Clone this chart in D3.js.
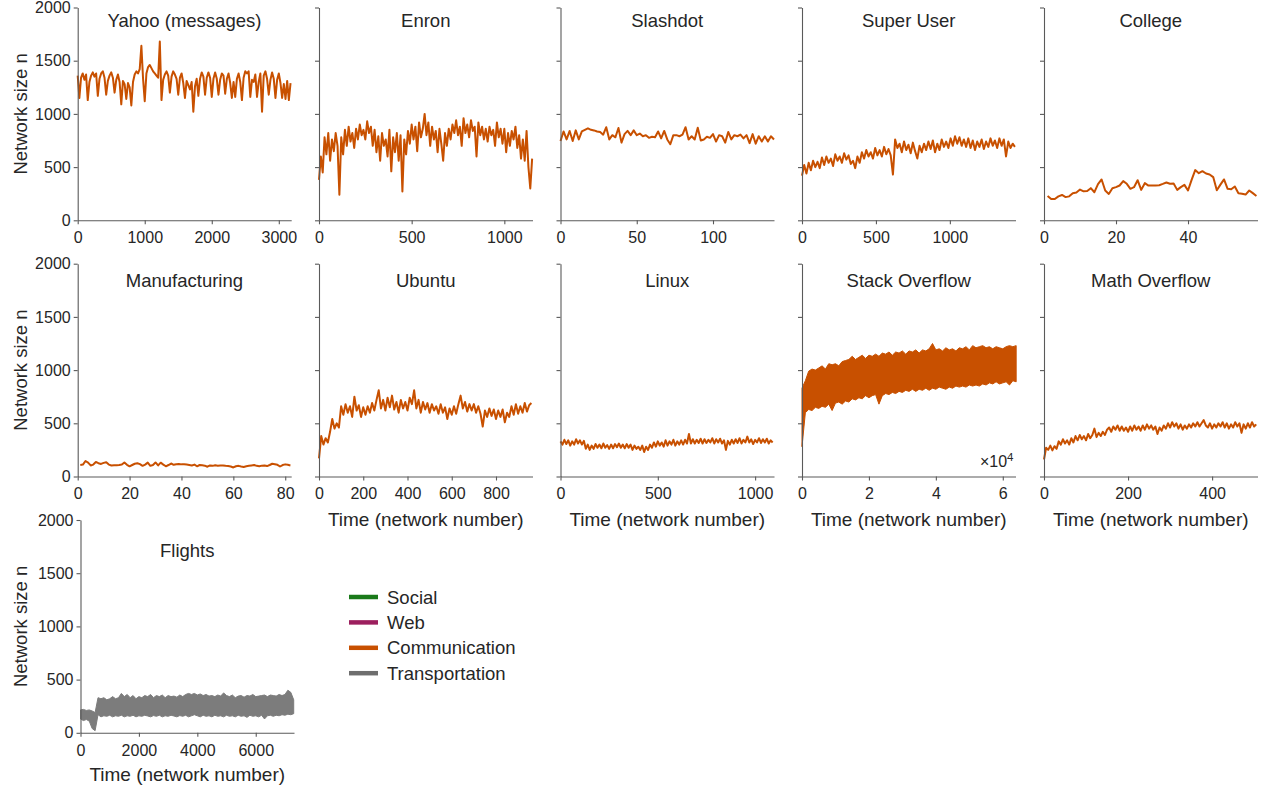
<!DOCTYPE html>
<html><head><meta charset="utf-8">
<script src="https://cdn.jsdelivr.net/npm/d3@7"></script>
<style>
body{margin:0;background:#fff}
svg{display:block}
text{font-family:"Liberation Sans",Arial,Helvetica,sans-serif}
</style>
</head><body>
<svg id="chart" width="1262" height="788"></svg>
<script>
// ---------------- DATA ----------------
const categoryNames = ["Social", "Web", "Communication", "Transportation"];
const yTickValues = [0, 500, 1000, 1500, 2000];

// Yahoo (messages): network number step 25
const yahooStep = 25;
const yahooSize = [1360,1150,1340,1380,1320,1370,1130,1300,1360,1390,
1350,1380,1170,1330,1380,1400,1340,1180,1310,1360,
1390,1340,1200,1320,1370,1300,1090,1310,1280,1140,
1290,1250,1080,1300,1370,1400,1380,1420,1640,1330,
1120,1380,1440,1460,1430,1400,1380,1360,1340,1680,
1130,1320,1370,1400,1360,1200,1350,1400,1370,1330,
1180,1340,1380,1290,1150,1310,1270,1230,1300,1020,
1260,1330,1170,1330,1390,1350,1180,1340,1390,1340,
1160,1330,1390,1330,1180,1320,1380,1360,1190,1330,
1380,1290,1150,1300,1160,1330,1380,1300,1130,1340,
1400,1380,1400,1160,1320,1300,1370,1160,1300,1380,
1020,1360,1400,1330,1180,1320,1390,1330,1150,1320,
1380,1290,1150,1280,1140,1310,1130,1290];

// Enron: step 10
const enronStep = 10;
const enronSize = [380,600,450,780,620,820,560,760,650,820,
700,240,780,620,850,700,880,740,820,680,
860,760,900,800,850,760,930,820,880,700,
850,640,790,560,820,700,760,600,850,460,
780,640,820,560,800,270,760,620,840,720,
900,760,880,650,920,780,860,1000,800,920,
700,880,760,840,640,860,720,560,820,700,
860,760,900,820,940,800,880,700,960,820,
900,780,940,840,880,600,920,800,880,760,
860,740,880,800,850,700,920,780,860,720,
860,640,820,700,840,760,880,680,800,580,
760,560,840,500,300,580];

// Slashdot: step 2
const slashdotStep = 2;
const slashdotSize = [745,835,760,840,745,845,760,835,850,865,
850,845,835,830,805,875,760,800,780,868,
730,810,840,800,845,800,815,790,800,775,
785,780,835,770,840,760,715,800,800,790,
805,875,760,790,760,870,750,760,785,775,
810,740,800,790,730,830,760,800,790,805,
770,800,725,810,720,790,740,790,740,790,760];

// Super User: step 15
const superUserStep = 15;
const superUserSize = [420,520,440,540,470,560,500,550,490,590,
520,600,540,580,510,620,560,600,540,630,
570,610,530,560,490,600,540,640,580,660,
600,640,580,680,610,660,600,690,620,670,
610,430,760,680,720,640,740,660,710,630,
730,650,580,700,640,720,660,740,670,750,
640,720,660,760,690,740,680,770,700,790,
720,780,700,760,690,770,680,750,660,740,
690,760,670,740,690,770,700,750,680,770,
700,760,600,740,680,720,690];

// College: networks 1..59
const collegeStart = 1;
const collegeSize = [229,200,200,225,238,218,225,255,261,289,
272,275,302,264,340,384,280,248,302,312,
327,368,343,296,311,377,286,349,326,327,
328,330,342,355,343,346,286,312,333,280,
380,472,443,462,440,431,406,283,335,384,
296,292,318,255,250,242,280,255,229];

// Manufacturing: networks 1..82
const manufacturingStart = 1;
const manufacturingSize = [108,112,146,130,104,112,136,125,118,128,
134,112,104,106,105,108,112,132,110,96,
108,120,124,116,100,112,130,100,108,132,
104,130,112,96,108,122,110,116,118,114,
116,112,108,104,112,96,108,106,102,92,
104,100,106,102,104,104,100,98,94,85,
96,100,94,90,96,100,104,108,100,96,
102,104,98,108,120,116,110,94,108,114,110,104];

// Ubuntu: step 10
const ubuntuStep = 10;
const ubuntuSize = [170,380,300,360,320,420,540,450,500,460,
660,580,680,600,660,560,750,620,670,560,
650,580,660,600,690,620,720,810,640,720,
620,740,650,760,630,700,600,720,640,700,
620,740,680,810,640,720,600,700,630,690,
600,680,620,660,590,680,600,650,540,640,
580,660,590,680,760,640,700,610,680,620,
680,600,660,590,470,620,560,640,570,630,
540,620,560,630,510,600,560,660,580,680,
590,660,600,690,610,670,690];

// Linux: step 10
const linuxStep = 10;
const linuxSize = [330,300,345,305,340,290,330,300,350,310,
340,300,335,260,300,250,290,260,305,270,
300,265,310,270,295,260,300,265,305,275,
310,270,300,265,305,270,300,250,290,260,
280,250,290,230,280,250,300,270,320,280,
330,290,320,280,340,290,330,300,345,290,
330,300,340,300,345,310,400,310,350,310,
345,315,355,310,350,315,345,320,360,310,
350,320,355,310,340,250,335,300,345,310,
350,315,360,310,345,320,375,320,350,305,
345,320,360,315,350,320,355,310,340,320];

// Stack Overflow: band envelope, step 1000
const stackStep = 1000;
const stackUpper = [830,900,990,1010,1000,1020,1040,1010,1060,1050,
1060,1040,1080,1090,1100,1130,1100,1120,1140,1110,
1140,1130,1150,1130,1160,1150,1170,1140,1170,1160,
1180,1150,1180,1170,1190,1160,1190,1180,1200,1250,
1190,1200,1180,1210,1190,1200,1180,1210,1200,1220,
1190,1230,1210,1220,1230,1210,1220,1200,1220,1210,
1200,1220,1230,1220,1230];
const stackLower = [280,600,630,620,650,640,660,650,680,620,
690,700,680,710,700,730,720,740,730,760,
740,760,770,680,760,780,770,790,780,800,
790,810,800,820,800,820,810,830,810,830,
820,840,830,820,840,830,850,840,850,840,
860,850,860,850,870,860,880,870,890,870,
880,890,860,900,890];

// Math Overflow: step 5
const mathStep = 5;
const mathSize = [160,270,250,290,245,285,260,330,300,350,
310,340,300,360,320,380,340,390,350,380,
340,400,360,390,450,370,410,380,420,390,
440,460,420,470,440,480,430,470,430,460,
420,470,430,480,440,470,430,480,440,490,
450,480,440,470,400,460,430,480,450,500,
460,510,470,500,450,490,440,480,450,490,
460,500,470,510,470,500,530,480,460,500,
450,490,460,500,470,510,460,500,450,490,
460,510,470,500,410,490,450,500,460,510,
470,490];

// Flights: band envelope, step 100
const flightsStep = 100;
const flightsUpper = [215,220,210,215,205,190,330,320,330,310,
320,340,320,330,370,340,360,330,350,320,
340,330,350,340,360,330,350,340,355,330,
350,340,345,335,355,340,360,370,360,370,
355,365,350,360,345,350,340,355,345,375,
350,340,355,330,345,350,335,350,345,360,
340,345,350,355,340,355,350,345,360,350,
360,400,380,310];
const flightsLower = [130,115,125,110,40,20,170,150,160,155,
165,150,160,155,165,150,160,155,165,150,
160,155,165,158,150,162,155,165,150,160,
155,165,158,150,162,155,165,150,160,170,
160,150,165,155,160,150,165,155,160,150,
165,155,160,150,165,155,160,145,165,155,
160,150,165,130,160,165,155,165,160,170,
165,175,170,180];

// x-axis extents (last network number shown) and tick values
const xMaxima = [3185, 1152, 140, 1444, 59.3, 82.3, 965, 1097, 63800, 508, 7310];
const xTickSets = [[0,1000,2000,3000],[0,500,1000],[0,50,100],[0,500,1000],[0,20,40],
  [0,20,40,60,80],[0,200,400,600,800],[0,500,1000],[0,20000,40000,60000],[0,200,400],
  [0,2000,4000,6000]];
const panelTitles = ["Yahoo (messages)","Enron","Slashdot","Super User","College",
  "Manufacturing","Ubuntu","Linux","Stack Overflow","Math Overflow","Flights"];
const panelCategory = [2,2,2,2,2,2,2,2,2,2,3];

// ---------------- STYLE / LAYOUT ----------------
const categoryColors = ["#1a7a1a", "#9c1f5e", "#c85000", "#6e6e6e"];
const seriesColors = {2: "#c85000", 3: "#7c7c7c"};
const colX = [77.7, 319, 560.5, 802, 1044];
const plotW = 213.5, plotH = 212.8;
const rowTop = [7.5, 263.7, 520];
const titleBase = [26.6, 287, 556.7];
const xTitleBase = [null, 525.5, 780.5];
const axisColor = "#5a5a5a", textColor = "#262626";

const series = [
  {values: yahooSize, start: 0, step: yahooStep},
  {values: enronSize, start: 0, step: enronStep},
  {values: slashdotSize, start: 0, step: slashdotStep},
  {values: superUserSize, start: 0, step: superUserStep},
  {values: collegeSize, start: collegeStart, step: 1},
  {values: manufacturingSize, start: manufacturingStart, step: 1},
  {values: ubuntuSize, start: 0, step: ubuntuStep},
  {values: linuxSize, start: 0, step: linuxStep},
  {upper: stackUpper, lower: stackLower, start: 0, step: stackStep},
  {values: mathSize, start: 0, step: mathStep},
  {upper: flightsUpper, lower: flightsLower, start: 0, step: flightsStep}
];
const layout = [[0,0],[0,1],[0,2],[0,3],[0,4],[1,0],[1,1],[1,2],[1,3],[1,4],[2,0]];

const svg = d3.select("#chart");

panelTitles.forEach((title, k) => {
  const [row, col] = layout[k];
  const left = (k === 10) ? 80.5 : colX[col];
  const top = rowTop[row];
  const g = svg.append("g").attr("transform", `translate(${left},${top})`);
  const x = d3.scaleLinear().domain([0, xMaxima[k]]).range([0, plotW]);
  const y = d3.scaleLinear().domain([0, 2000]).range([plotH, 0]);
  const s = series[k];
  const color = seriesColors[panelCategory[k]];

  // data marks
  if (s.values) {
    const line = d3.line()
      .x((d, i) => x(s.start + i * s.step))
      .y(d => y(d));
    g.append("path").datum(s.values)
      .attr("d", line).attr("fill", "none")
      .attr("stroke", color).attr("stroke-width", 2)
      .attr("stroke-linejoin", "round");
  } else {
    const idx = d3.range(s.upper.length);
    const area = d3.area()
      .x(i => x(s.start + i * s.step))
      .y0(i => y(s.lower[i]))
      .y1(i => y(s.upper[i]));
    g.append("path").datum(idx).attr("d", area)
      .attr("fill", color).attr("stroke", color).attr("stroke-width", 1);
  }

  // y axis
  const yAxis = d3.axisLeft(y).tickValues(yTickValues).tickSize(4).tickSizeOuter(0)
    .tickPadding(3).tickFormat(col === 0 ? d3.format("d") : () => "");
  const ya = g.append("g").call(yAxis);
  // x axis
  const fmt = (k === 8) ? (d => d / 10000) : d3.format("d");
  const xAxis = d3.axisBottom(x).tickValues(xTickSets[k]).tickSize(4).tickSizeOuter(0)
    .tickPadding(7.5).tickFormat(fmt);
  const xa = g.append("g").attr("transform", `translate(0,${plotH})`).call(xAxis);
  [ya, xa].forEach(a => {
    a.attr("font-family", null).attr("font-size", null);
    a.select(".domain").attr("stroke", axisColor).attr("stroke-width", 1.1);
    a.selectAll(".tick line").attr("stroke", axisColor).attr("stroke-width", 1.1);
    a.selectAll(".tick text").attr("fill", textColor).style("font-size", "16px");
  });

  // title
  svg.append("text").attr("x", left + plotW / 2).attr("y", titleBase[row])
    .attr("text-anchor", "middle").attr("fill", textColor)
    .style("font-size", "18.5px").text(title);

  // y axis title
  if (col === 0) {
    svg.append("text")
      .attr("transform", `translate(27,${top + plotH / 2}) rotate(-90)`)
      .attr("text-anchor", "middle").attr("fill", textColor)
      .style("font-size", "18.5px").text("Network size n");
  }
  // x axis title
  if ((row === 1 && col > 0) || row === 2) {
    svg.append("text").attr("x", left + plotW / 2).attr("y", xTitleBase[row])
      .attr("text-anchor", "middle").attr("fill", textColor)
      .style("font-size", "19px").text("Time (network number)");
  }
  if (k === 8) {
    const t = g.append("text").attr("x", plotW - 2).attr("y", plotH - 9.5)
      .attr("text-anchor", "end").attr("fill", textColor).style("font-size", "16px");
    t.append("tspan").text("×10");
    t.append("tspan").attr("dy", -6).style("font-size", "11.5px").text("4");
  }
});

// legend
const leg = svg.append("g").attr("transform", "translate(349,597)");
categoryNames.forEach((name, i) => {
  const yy = i * 25.4;
  leg.append("line").attr("x1", 0).attr("x2", 29).attr("y1", yy).attr("y2", yy)
    .attr("stroke", categoryColors[i]).attr("stroke-width", 4.5);
  leg.append("text").attr("x", 38).attr("y", yy + 6.5).attr("fill", textColor)
    .style("font-size", "18.5px").text(name);
});
</script>
</body></html>
